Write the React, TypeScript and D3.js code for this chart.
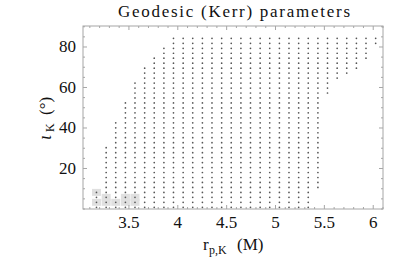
import React from "react";
import * as d3 from "d3";

// grid columns: periapsis r_p,K (M)
const colR = [3.168, 3.267, 3.365, 3.464, 3.562, 3.661, 3.759, 3.858, 3.956, 4.055,
  4.153, 4.252, 4.35, 4.449, 4.547, 4.646, 4.744, 4.843, 4.941, 5.04,
  5.138, 5.237, 5.335, 5.434, 5.532, 5.631, 5.729, 5.828, 5.926, 6.025];
// grid rows: inclination iota_K (deg)
const rowIota = [0.84, 3.29, 5.75, 8.2, 10.66, 13.11, 15.56, 18.02, 20.47, 22.93,
  25.38, 27.83, 30.29, 32.74, 35.2, 37.65, 40.1, 42.56, 45.01, 47.47,
  49.92, 52.37, 54.83, 57.28, 59.74, 62.19, 64.64, 67.1, 69.55, 72.01,
  74.46, 76.91, 79.37, 81.82, 84.28];
// index range of rows populated in each column
const colMinRow = [0, 0, 0, 0, 0, 0, 0, 0, 0, 0, 0, 0, 0, 0, 0, 0, 0, 0, 0, 0, 0, 0, 0, 4, 23, 26, 27, 28, 30, 33];
const colMaxRow = [3, 12, 17, 21, 25, 28, 30, 32, 34, 34, 34, 34, 34, 34, 34, 34, 34, 34, 34, 34, 34, 34, 34, 34, 34, 34, 34, 34, 34, 34];
// light gray markers
const grayR = [3.168, 3.168, 3.267, 3.267, 3.365, 3.464, 3.464, 3.562, 3.562];
const grayIota = [8.2, 3.29, 5.75, 3.29, 3.29, 5.75, 3.29, 5.75, 3.29];

const xTicks = [3.5, 4, 4.5, 5, 5.5, 6];
const xTickLabels = ["3.5", "4", "4.5", "5", "5.5", "6"];
const yTicks = [20, 40, 60, 80];
const yTickLabels = ["20", "40", "60", "80"];

const W = 415, H = 258;
const L = 83, R = 383, T = 26, B = 209;

export default function App() {
  const x = d3.scaleLinear().domain([3.03, 6.1]).range([L, R]);
  const y = d3.scaleLinear().domain([0, 90.37]).range([B, T]);
  const xMinor = x.ticks(30);
  const yMinor = y.ticks(18);
  const frame = "#a6a6a6";
  const font = "Liberation Serif, Times New Roman, serif";

  const dots: [number, number][] = [];
  colR.forEach((r, c) => {
    for (let k = colMinRow[c]; k <= colMaxRow[c]; k++) dots.push([r, rowIota[k]]);
  });

  return (
    <svg width={W} height={H} style={{ position: "absolute", left: 0, top: 0, fontFamily: font }}>
      <rect width={W} height={H} fill="#fff" />
      <text x={234} y={17} style={{ fontFamily: font }} fontSize={17} textAnchor="middle" fill="#111"
        textLength={232} lengthAdjust="spacing">Geodesic (Kerr) parameters</text>
      {grayR.map((r, i) => (
        <rect key={"g" + i} x={x(r) - 4.5} y={y(grayIota[i]) - 3.5} width={9} height={7} fill="#e0e0e0" />
      ))}
      {dots.map((d, i) => (
        <circle key={"d" + i} cx={x(d[0])} cy={y(d[1])} r={0.85} fill="#555" />
      ))}
      <rect x={L} y={T} width={R - L} height={B - T} fill="none" stroke={frame} strokeWidth={1} />
      {xMinor.map((v, i) => {
        const major = xTicks.some(t => Math.abs(t - v) < 1e-6);
        const len = major ? 4 : 2;
        return (
          <g key={"xm" + i} stroke={frame}>
            <line x1={x(v)} x2={x(v)} y1={B} y2={B - len} />
            <line x1={x(v)} x2={x(v)} y1={T} y2={T + len} />
          </g>
        );
      })}
      {yMinor.map((v, i) => {
        const major = yTicks.some(t => Math.abs(t - v) < 1e-6);
        const len = major ? 4 : 2;
        return (
          <g key={"ym" + i} stroke={frame}>
            <line x1={L} x2={L + len} y1={y(v)} y2={y(v)} />
            <line x1={R} x2={R - len} y1={y(v)} y2={y(v)} />
          </g>
        );
      })}
      {xTicks.map((v, i) => (
        <text key={"xl" + i} x={x(v)} y={228} style={{ fontFamily: font }} fontSize={17} textAnchor="middle" fill="#111">
          {xTickLabels[i]}
        </text>
      ))}
      {yTicks.map((v, i) => (
        <text key={"yl" + i} x={76} y={y(v) + 5.5} style={{ fontFamily: font }} fontSize={17} textAnchor="end" fill="#111">
          {yTickLabels[i]}
        </text>
      ))}
      <g style={{ fontFamily: font }} fill="#111">
        <text x={203} y={250} fontSize={17}>r</text>
        <text x={209} y={254} fontSize={12}>p,K</text>
        <text x={237} y={250} fontSize={17}>(M)</text>
      </g>
      <g transform="translate(51,140) rotate(-90)" style={{ fontFamily: font }} fill="#111">
        <text x={0} y={0} fontSize={18} fontStyle="italic">ι</text>
        <text x={8} y={3} fontSize={12}>K</text>
        <text x={25} y={0} fontSize={17}>(°)</text>
      </g>
    </svg>
  );
}
